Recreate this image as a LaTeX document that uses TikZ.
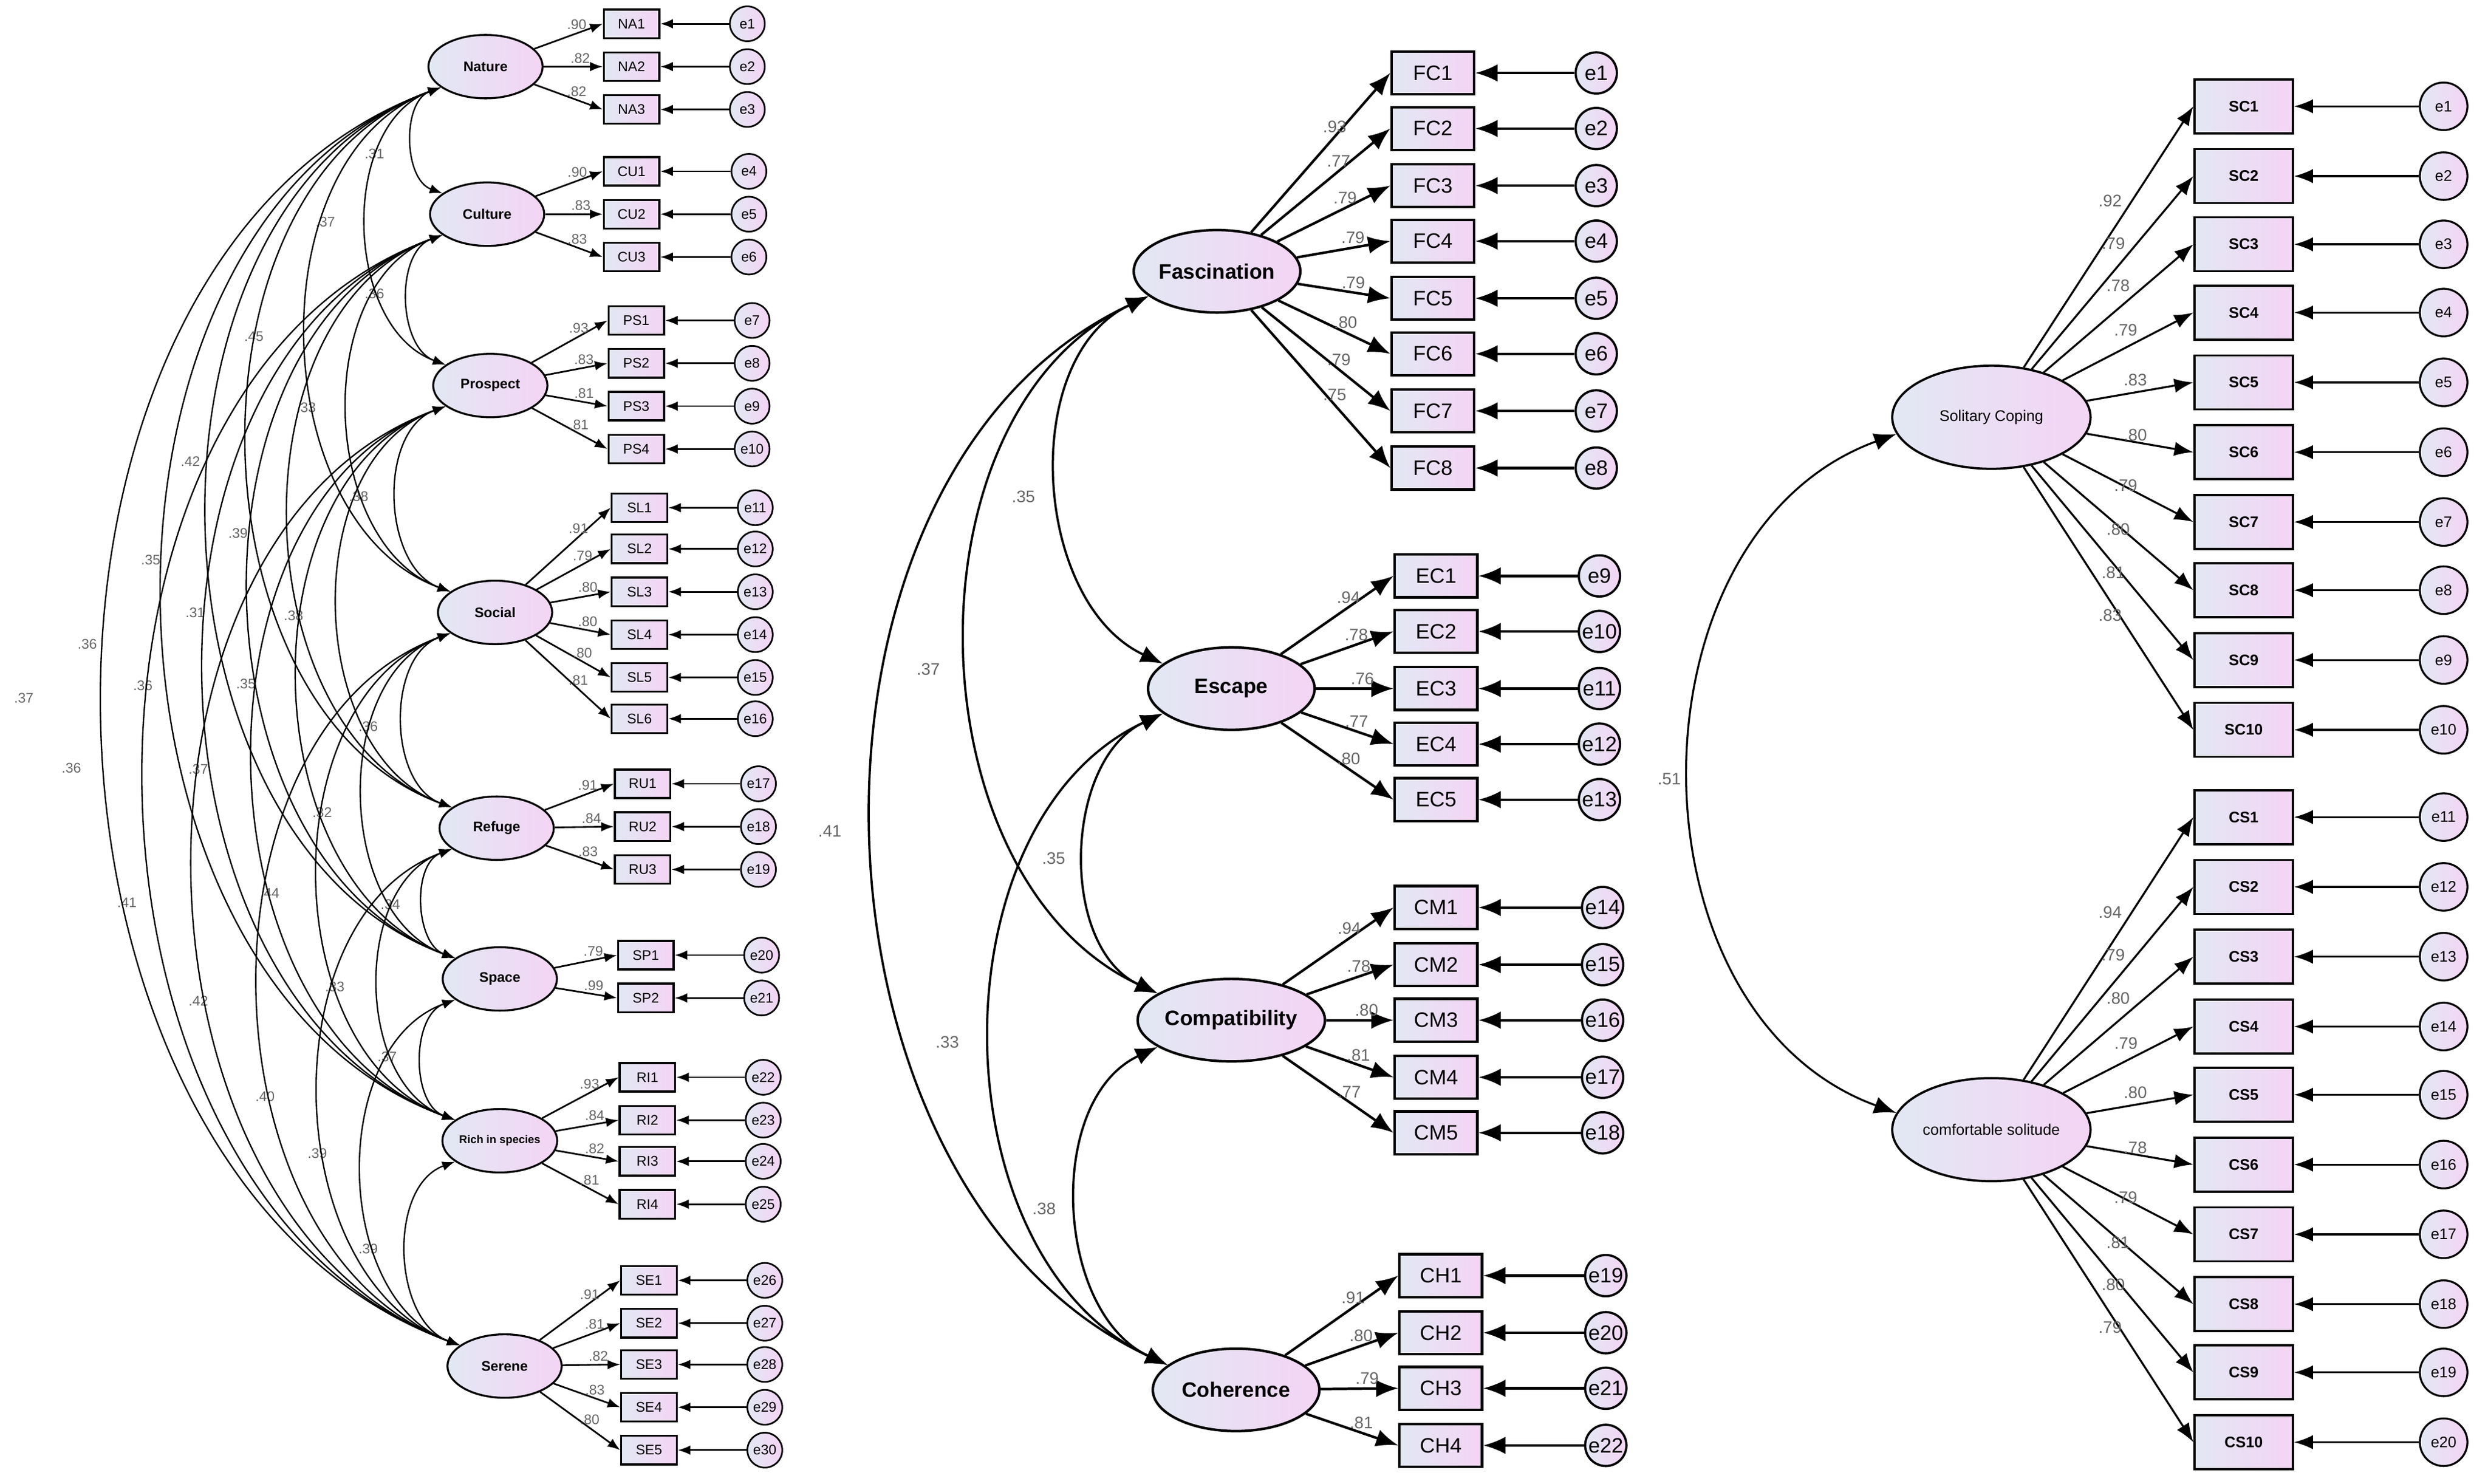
\documentclass[tikz,border=0pt]{standalone}
\usepackage{fontspec}
\setmainfont{Liberation Sans}
\usetikzlibrary{arrows.meta,shapes.geometric}
\definecolor{fa}{RGB}{226,232,244}
\definecolor{fb}{RGB}{244,212,244}
\tikzset{
 sh/.style={draw=black,left color=fa,right color=fb},
 latL/.style={sh,ellipse,line width=0.7pt,minimum width=1.44cm,minimum height=0.8cm,inner sep=0pt,font=\bfseries\fontsize{5}{6}\selectfont},
 indL/.style={sh,rectangle,line width=0.7pt,minimum width=0.7cm,minimum height=0.36cm,inner sep=0pt,font=\fontsize{5}{6}\selectfont},
 errL/.style={sh,circle,line width=0.6pt,minimum size=0.44cm,inner sep=0pt,font=\fontsize{5}{6}\selectfont},
 latM/.style={sh,ellipse,line width=0.9pt,minimum width=2.1cm,minimum height=1.04cm,inner sep=0pt,font=\bfseries\fontsize{7.5}{9}\selectfont},
 indM/.style={sh,rectangle,line width=0.9pt,minimum width=1.04cm,minimum height=0.54cm,inner sep=0pt,font=\fontsize{7.5}{9}\selectfont},
 errM/.style={sh,circle,line width=0.8pt,minimum size=0.52cm,inner sep=0pt,font=\fontsize{7.5}{9}\selectfont},
 latR/.style={sh,ellipse,line width=0.8pt,minimum width=2.5cm,minimum height=1.3cm,inner sep=0pt,font=\fontsize{5.5}{7}\selectfont},
 indR/.style={sh,rectangle,line width=0.8pt,minimum width=1.24cm,minimum height=0.68cm,inner sep=0pt,font=\bfseries\fontsize{5.5}{7}\selectfont},
 errR/.style={sh,circle,line width=0.7pt,minimum size=0.6cm,inner sep=0pt,font=\fontsize{5.5}{7}\selectfont},
 arL/.style={line width=0.6pt,-{Latex[length=0.16cm,width=0.12cm]}},
 arM/.style={line width=0.9pt,-{Latex[length=0.28cm,width=0.22cm]}},
 arR/.style={line width=0.7pt,-{Latex[length=0.24cm,width=0.18cm]}},
 coL/.style={line width=0.5pt,{Latex[length=0.16cm,width=0.12cm]}-{Latex[length=0.16cm,width=0.12cm]}},
 coM/.style={line width=0.8pt,{Latex[length=0.28cm,width=0.22cm]}-{Latex[length=0.28cm,width=0.22cm]}},
 labL/.style={text=black!60,font=\fontsize{5}{6}\selectfont,inner sep=1pt},
 labM/.style={text=black!60,font=\fontsize{6}{7}\selectfont,inner sep=1pt},
}
\begin{document}
\begin{tikzpicture}[x=0.02cm,y=-0.02cm]
\useasboundingbox (0,0) rectangle (1568,935);
% ---------- left panel latents
\node[latL] (Nat) at (306,42) {Nature};
\node[latL] (Cul) at (307,135) {Culture};
\node[latL] (Pro) at (309,243) {Prospect};
\node[latL] (Soc) at (312,386) {Social};
\node[latL] (Ref) at (313,522) {Refuge};
\node[latL] (Spa) at (315,617) {Space};
\node[latL,font=\bfseries\fontsize{4}{5}\selectfont] (Ric) at (315,719) {Rich in species};
\node[latL] (Ser) at (318,861) {Serene};
\foreach \lat/\ind/\x/\y/\e/\ex/\l in {
 Nat/NA1/398/15/1/471/.90, Nat/NA2/398/42/2/471/.82, Nat/NA3/398/69/3/471/.82,
 Cul/CU1/398/108/4/472/.90, Cul/CU2/398/135/5/472/.83, Cul/CU3/398/162/6/472/.83,
 Pro/PS1/401/202/7/474/.93, Pro/PS2/401/229/8/474/.83, Pro/PS3/401/256/9/474/.81, Pro/PS4/401/283/10/474/.81,
 Soc/SL1/403/320/11/476/.91, Soc/SL2/403/346/12/476/.79, Soc/SL3/403/373/13/476/.80, Soc/SL4/403/400/14/476/.80, Soc/SL5/403/427/15/476/.80, Soc/SL6/403/453/16/476/.81,
 Ref/RU1/405/494/17/478/.91, Ref/RU2/405/521/18/478/.84, Ref/RU3/405/548/19/478/.83,
 Spa/SP1/407/602/20/480/.79, Spa/SP2/407/629/21/480/.99,
 Ric/RI1/408/679/22/481/.93, Ric/RI2/408/706/23/481/.84, Ric/RI3/408/732/24/481/.82, Ric/RI4/408/759/25/481/.81,
 Ser/SE1/409/807/26/482/.91, Ser/SE2/409/834/27/482/.81, Ser/SE3/409/860/28/482/.82, Ser/SE4/409/887/29/482/.83, Ser/SE5/409/914/30/482/.80}{
 \node[indL] (\ind) at (\x,\y) {\ind};
 \node[errL] (Le\e) at (\ex,\y) {e\e};
 \draw[arL] (\lat) -- (\ind.west) node[labL,pos=0.62,above] {\l};
 \draw[arL] (Le\e) -- (\ind);
}
% left correlations
\foreach \a/\b/\l/\lx/\ly in {
 Nat/Cul/.31/236/97, Cul/Pro/.36/236/185, Pro/Soc/.38/226/313, Soc/Ref/.36/232/458, Ref/Spa/.34/246/570, Spa/Ric/.37/244/666, Ric/Ser/.39/232/787,
 Nat/Pro/.37/205/140, Cul/Soc/.33/193/257, Pro/Ref/.38/185/388, Soc/Spa/.32/203/512, Ref/Ric/.33/211/622, Spa/Ser/.39/200/727,
 Nat/Soc/.45/160/212, Cul/Ref/.39/150/336, Pro/Spa/.35/155/431, Soc/Ric/.44/170/563, Ref/Ser/.40/167/691,
 Nat/Ref/.42/120/291, Cul/Spa/.31/123/386, Pro/Ric/.37/125/485, Soc/Ser/.42/125/631,
 Nat/Spa/.35/95/353, Cul/Ric/.36/90/432, Pro/Ser/.41/80/569,
 Nat/Ric/.36/55/406, Cul/Ser/.36/45/484,
 Nat/Ser/.37/15/440}{
 \draw[coL] (\a.205) to[out=200,in=160] (\b.155);
 \node[labL] at (\lx,\ly) {\l};
}
% ---------- middle panel
\node[latM] (Fas) at (767,171) {Fascination};
\node[latM] (Esc) at (776,434) {Escape};
\node[latM] (Com) at (776,643) {Compatibility};
\node[latM] (Coh) at (779,876) {Coherence};
\foreach \lat/\ind/\x/\y/\e/\ex/\l in {
 Fas/FC1/903/46/1/1006/.93, Fas/FC2/903/81/2/1006/.77, Fas/FC3/903/117/3/1006/.79, Fas/FC4/903/152/4/1006/.79,
 Fas/FC5/903/188/5/1006/.79, Fas/FC6/903/223/6/1006/.80, Fas/FC7/903/259/7/1006/.79, Fas/FC8/903/295/8/1006/.75,
 Esc/EC1/905/363/9/1008/.94, Esc/EC2/905/398/10/1008/.78, Esc/EC3/905/434/11/1008/.76, Esc/EC4/905/469/12/1008/.77, Esc/EC5/905/504/13/1008/.80,
 Com/CM1/905/572/14/1010/.94, Com/CM2/905/608/15/1010/.78, Com/CM3/905/643/16/1010/.80, Com/CM4/905/679/17/1010/.81, Com/CM5/905/714/18/1010/.77,
 Coh/CH1/908/804/19/1012/.91, Coh/CH2/908/840/20/1012/.80, Coh/CH3/908/875/21/1012/.79, Coh/CH4/908/911/22/1012/.81}{
 \node[indM] (\ind) at (\x,\y) {\ind};
 \node[errM] (Me\e) at (\ex,\y) {e\e};
 \draw[arM] (\lat) -- (\ind.west) node[labM,pos=0.6,above] {\l};
 \draw[arM] (Me\e) -- (\ind);
}
\foreach \a/\b/\l/\lx/\ly in {
 Fas/Esc/.35/645/313, Esc/Com/.35/664/541, Com/Coh/.38/658/762,
 Fas/Com/.37/585/422, Esc/Coh/.33/597/657, Fas/Coh/.41/523/524}{
 \draw[coM] (\a.200) to[out=205,in=155] (\b.160);
 \node[labM] at (\lx,\ly) {\l};
}
% ---------- right panel
\node[latR] (Sol) at (1255,263) {Solitary Coping};
\node[latR] (Cmf) at (1255,712) {comfortable solitude};
\foreach \lat/\ind/\y/\e/\l in {
 Sol/SC1/67/1/.92, Sol/SC2/111/2/.79, Sol/SC3/154/3/.78, Sol/SC4/197/4/.79, Sol/SC5/241/5/.83,
 Sol/SC6/285/6/.80, Sol/SC7/329/7/.79, Sol/SC8/372/8/.80, Sol/SC9/416/9/.81, Sol/SC10/460/10/.83,
 Cmf/CS1/515/11/.94, Cmf/CS2/559/12/.79, Cmf/CS3/603/13/.80, Cmf/CS4/647/14/.79, Cmf/CS5/690/15/.80,
 Cmf/CS6/734/16/.78, Cmf/CS7/778/17/.79, Cmf/CS8/822/18/.81, Cmf/CS9/865/19/.80, Cmf/CS10/909/20/.79}{
 \node[indR] (\ind) at (1414,\y) {\ind};
 \node[errR] (Re\e) at (1540,\y) {e\e};
 \draw[arR] (\lat) -- (\ind.west) node[labM,pos=0.6,above left] {\l};
 \draw[arR] (Re\e) -- (\ind);
}
\draw[coM,line width=0.7pt] (Sol.190) to[out=200,in=160,looseness=1.1] (Cmf.170);
\node[labM] at (1052,491) {.51};
\end{tikzpicture}
\end{document}
